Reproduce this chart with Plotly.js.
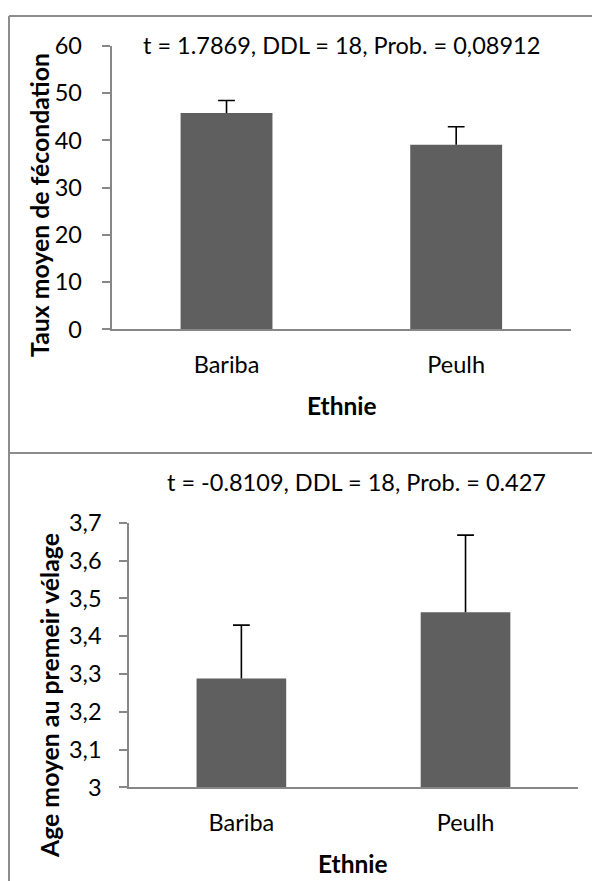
<!DOCTYPE html>
<html><head><meta charset="utf-8">
<script src="https://cdn.plot.ly/plotly-3.0.1.min.js"></script>
<style>html,body{margin:0;padding:0;background:#fff}#chart{width:592px;height:881px}</style>
</head><body><div id="chart"></div>
<script>
// ---- data ----
const categories = ['Bariba', 'Peulh'];
const fecondationMean = [45.8, 39.1];
const fecondationErr = [2.65, 3.8];
const velageMean = [3.288, 3.463];
const velageErr = [0.141, 0.204];
const topTickVals = [0, 10, 20, 30, 40, 50, 60];
const bottomTickVals = [3, 3.1, 3.2, 3.3, 3.4, 3.5, 3.6, 3.7];
const topStatText = 't = 1.7869, DDL = 18, Prob. = 0,08912';
const bottomStatText = 't = -0.8109, DDL = 18, Prob. = 0.427';
const topYTitle = 'Taux moyen de fécondation';
const bottomYTitle = 'Age moyen au premeir vélage';
const xTitle = 'Ethnie';

// ---- styling ----
const W = 592, H = 881;
const FONT = 'Lato, "Open Sans", sans-serif';
const FS = 23.5;
const FSB = 24.8;
const BAR = '#5f5f5f';
const AXIS = '#878787';
const px = x => x / W;
const py = y => 1 - y / H;

function errLines(means, errs, xa, ya) {
  return {
    type: 'scatter', mode: 'lines', xaxis: xa, yaxis: ya, hoverinfo: 'skip', showlegend: false,
    x: categories.flatMap(c => [c, c, null]),
    y: means.flatMap((m, i) => [m, m + errs[i], null]),
    line: {color: '#000', width: 1.6}
  };
}
function errCaps(means, errs, xa, ya) {
  return {
    type: 'scatter', mode: 'markers', xaxis: xa, yaxis: ya, hoverinfo: 'skip', showlegend: false,
    x: categories, y: means.map((m, i) => m + errs[i]),
    marker: {symbol: 'line-ew', size: 12, color: '#000', line: {color: '#000', width: 1.6}}
  };
}

const data = [
  {type: 'bar', x: categories, y: fecondationMean, xaxis: 'x', yaxis: 'y', marker: {color: BAR}, showlegend: false},
  errLines(fecondationMean, fecondationErr, 'x', 'y'),
  errCaps(fecondationMean, fecondationErr, 'x', 'y'),
  {type: 'bar', x: categories, y: velageMean, xaxis: 'x2', yaxis: 'y2', marker: {color: BAR}, showlegend: false},
  errLines(velageMean, velageErr, 'x2', 'y2'),
  errCaps(velageMean, velageErr, 'x2', 'y2')
];

const xBase = {
  type: 'category', showgrid: false, zeroline: false, showline: true, linecolor: AXIS, linewidth: 2,
  ticks: '', tickfont: {family: FONT, size: FS, color: '#000'}, ticklabelstandoff: 13, fixedrange: true
};
const yBase = {
  showgrid: false, zeroline: false, showline: true, linecolor: AXIS, linewidth: 2,
  ticks: 'outside', ticklen: 8, tickwidth: 2, tickcolor: AXIS,
  tickfont: {family: FONT, size: FS, color: '#000'}, ticklabelstandoff: 15, fixedrange: true
};

const layout = {
  width: W, height: H, autosize: false,
  margin: {l: 0, r: 0, t: 0, b: 0},
  paper_bgcolor: '#fff', plot_bgcolor: '#fff',
  separators: ', ',
  bargap: 0.6,
  font: {family: FONT, size: FS, color: '#000'},
  xaxis: Object.assign({}, xBase, {domain: [px(111.7), px(571)], range: [-0.5, 1.5], anchor: 'y'}),
  yaxis: Object.assign({}, yBase, {domain: [py(329.3), py(46)], range: [0, 60], tickvals: topTickVals, anchor: 'x'}),
  xaxis2: Object.assign({}, xBase, {domain: [px(129.3), px(577.6)], range: [-0.5, 1.5], anchor: 'y2'}),
  yaxis2: Object.assign({}, yBase, {domain: [py(787.3), py(522.7)], range: [3, 3.7], tickvals: bottomTickVals, tickformat: '.1~f', anchor: 'x2', ticklabelstandoff: 13}),
  shapes: [
    {type: 'line', xref: 'paper', yref: 'paper', x0: px(9), x1: px(9), y0: 0, y1: py(16), line: {color: '#8c8c8c', width: 2}},
    {type: 'line', xref: 'paper', yref: 'paper', x0: px(9), x1: 1, y0: py(16), y1: py(16), line: {color: '#8c8c8c', width: 2}},
    {type: 'line', xref: 'paper', yref: 'paper', x0: px(9), x1: 1, y0: py(453), y1: py(453), line: {color: '#8c8c8c', width: 2}}
  ],
  annotations: [
    {text: topStatText, xref: 'paper', yref: 'paper', x: px(341), y: py(45), xanchor: 'center', yanchor: 'middle', showarrow: false, font: {family: FONT, size: FS}},
    {text: bottomStatText, xref: 'paper', yref: 'paper', x: px(356), y: py(482), xanchor: 'center', yanchor: 'middle', showarrow: false, font: {family: FONT, size: FS}},
    {text: '<b>' + topYTitle + '</b>', xref: 'paper', yref: 'paper', x: px(39), y: py(205), xanchor: 'center', yanchor: 'middle', textangle: -90, showarrow: false, font: {family: FONT, size: FSB}},
    {text: '<b>' + bottomYTitle + '</b>', xref: 'paper', yref: 'paper', x: px(49), y: py(696), xanchor: 'center', yanchor: 'middle', textangle: -90, showarrow: false, font: {family: FONT, size: FSB}},
    {text: '<b>' + xTitle + '</b>', xref: 'paper', yref: 'paper', x: px(342), y: py(405), xanchor: 'center', yanchor: 'middle', showarrow: false, font: {family: FONT, size: 24.5}},
    {text: '<b>' + xTitle + '</b>', xref: 'paper', yref: 'paper', x: px(353), y: py(863), xanchor: 'center', yanchor: 'middle', showarrow: false, font: {family: FONT, size: 24.5}}
  ]
};

Plotly.newPlot('chart', data, layout, {displayModeBar: false, staticPlot: true});
</script>
</body></html>
